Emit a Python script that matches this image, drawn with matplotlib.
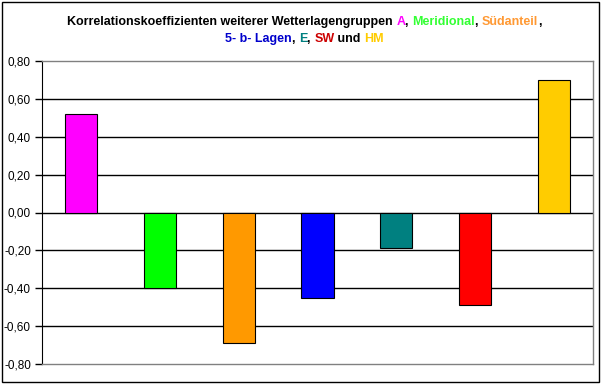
import matplotlib
matplotlib.use("Agg")
import matplotlib.pyplot as plt
from matplotlib.patches import Rectangle
from matplotlib.ticker import FuncFormatter

# Korrelationskoeffizienten je Wetterlagengruppe
groups = ["A", "Meridional", "Südanteil", "5- b- Lagen", "E", "SW", "HM"]
values = [0.52, -0.40, -0.69, -0.45, -0.19, -0.49, 0.70]
bar_colors = ["#FF00FF", "#00FF00", "#FF9900", "#0000FF", "#008080", "#FF0000", "#FFCC00"]
yticks = [-0.8, -0.6, -0.4, -0.2, 0.0, 0.2, 0.4, 0.6, 0.8]

# title pieces: (text, colour) per line
title_line1 = [("Korrelationskoeffizienten weiterer Wetterlagengruppen ", "black"),
               ("A", "#FF00FF"), (", ", "black"), ("Meridional", "#33FF33"),
               (", ", "black"), ("Südanteil", "#FF9933"), (",", "black")]
title_line2 = [("5- b- Lagen", "#0000CC"), (", ", "black"), ("E", "#008080"),
               (", ", "black"), ("SW", "#CC0000"), (" und ", "black"), ("HM", "#FFCC00")]

plt.rcParams["font.family"] = ["Liberation Sans", "DejaVu Sans"]

fig = plt.figure(figsize=(6.05, 3.86), dpi=100)
ax = fig.add_axes([42 / 605, 1 - 364 / 386, (593 - 42) / 605, (364 - 61) / 386])

x = list(range(len(groups)))
ax.bar(x, values, width=0.41, color=bar_colors, edgecolor="black", linewidth=0.8, zorder=3)

ax.set_xlim(-0.5, len(groups) - 0.5)
ax.set_ylim(-0.8, 0.8)
ax.set_yticks(yticks)
ax.yaxis.set_major_formatter(FuncFormatter(lambda v, p: f"{v:.2f}".replace(".", ",")))
ax.set_xticks([])
ax.tick_params(axis="y", direction="out", length=5, width=1, labelsize=8.5, pad=3, color="black")
for v in yticks[1:-1]:
    ax.axhline(v, color="black", linewidth=1, zorder=1)

ax.spines["left"].set_color("black")
for s in ("top", "right", "bottom"):
    ax.spines[s].set_color("#808080")
    ax.spines[s].set_linewidth(1)

# outer chart frame
fig.patches.append(Rectangle((2 / 605, 1 - 382 / 386), 597 / 605, 380 / 386,
                             transform=fig.transFigure, fill=False,
                             edgecolor="black", linewidth=1))


def colored_line(pieces, y_px):
    texts = [fig.text(0, 1 - y_px / 386, t, color=c, fontsize=9, fontweight="bold",
                      va="center", ha="left") for t, c in pieces]
    r = fig.canvas.get_renderer()
    widths = [t.get_window_extent(r).width for t in texts]
    start = (605 - sum(widths)) / 2 + 2
    for t, w in zip(texts, widths):
        t.set_x(start / 605)
        start += w


colored_line(title_line1, 22)
colored_line(title_line2, 39)

fig.savefig("out.png", dpi=100)
